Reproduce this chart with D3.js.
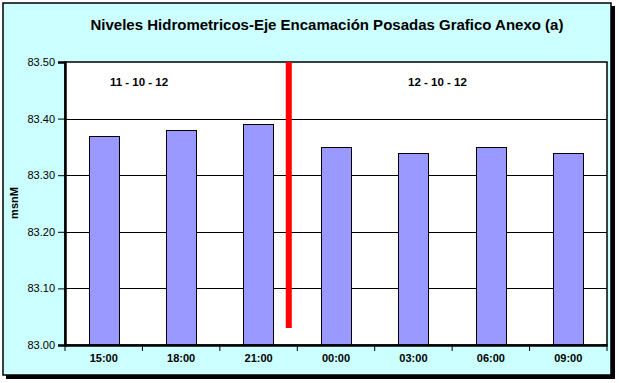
<!DOCTYPE html>
<html>
<head>
<meta charset="utf-8">
<script src="https://cdn.jsdelivr.net/npm/d3@7"></script>
<style>
  html, body { margin: 0; padding: 0; background: #fff; }
  svg { display: block; }
  text { font-family: "Liberation Sans", Arial, sans-serif; }
</style>
</head>
<body>
<svg id="chart" width="619" height="383"></svg>
<script>
// ---- data ----
const categories = ["15:00", "18:00", "21:00", "00:00", "03:00", "06:00", "09:00"];
const levels = [83.37, 83.38, 83.39, 83.35, 83.34, 83.35, 83.34];
const yTicks = [83.00, 83.10, 83.20, 83.30, 83.40, 83.50];
const dayLabels = ["11 - 10 - 12", "12 - 10 - 12"];
const dayLabelPos = [0.08, 3.93];          // category-index positions
const dividerIndex = [2.39];               // position of red divider (category index units)
const dividerRange = [83.03, 83.50];
const title = "Niveles Hidrometricos-Eje Encamación Posadas Grafico Anexo (a)";
const yTitle = "msnM";

// ---- layout ----
const svg = d3.select("#chart");
const plot = { left: 65, right: 607, top: 62, bottom: 345 };

// background with shadow
svg.append("rect").attr("x", 6).attr("y", 6).attr("width", 609).attr("height", 373).attr("fill", "#000");
svg.append("rect").attr("x", 3).attr("y", 3).attr("width", 608).attr("height", 372)
  .attr("fill", "#CCFFFF").attr("stroke", "#000").attr("stroke-width", 1.5);

const x = d3.scaleBand().domain(categories).range([plot.left, plot.right]).paddingInner(0).paddingOuter(0);
const xi = d3.scaleLinear().domain([-0.5, categories.length - 0.5]).range([plot.left, plot.right]);
const y = d3.scaleLinear().domain([83.0, 83.5]).range([plot.bottom, plot.top]);

// plot area
svg.append("rect").attr("x", plot.left).attr("y", plot.top)
  .attr("width", plot.right - plot.left).attr("height", plot.bottom - plot.top)
  .attr("fill", "#fff");

// gridlines
svg.append("g").selectAll("line").data(yTicks.slice(1, -1)).join("line")
  .attr("x1", plot.left).attr("x2", plot.right)
  .attr("y1", d => Math.round(y(d)) + 0.5).attr("y2", d => Math.round(y(d)) + 0.5)
  .attr("stroke", "#000").attr("stroke-width", 1);

// bars
const barW = x.bandwidth() * 0.39;
svg.append("g").selectAll("rect").data(levels).join("rect")
  .attr("x", (d, i) => Math.round(x(categories[i]) + (x.bandwidth() - barW) / 2) + 0.5)
  .attr("y", d => Math.round(y(d)) + 0.5)
  .attr("width", Math.round(barW))
  .attr("height", d => y(83.0) - Math.round(y(d)))
  .attr("fill", "#9999FF").attr("stroke", "#000").attr("stroke-width", 1);

// plot border
svg.append("rect").attr("x", plot.left).attr("y", plot.top)
  .attr("width", plot.right - plot.left).attr("height", plot.bottom - plot.top)
  .attr("fill", "none").attr("stroke", "#000").attr("stroke-width", 1.5);

// red divider
svg.append("g").selectAll("line").data(dividerIndex).join("line")
  .attr("x1", d => xi(d)).attr("x2", d => xi(d))
  .attr("y1", y(dividerRange[1])).attr("y2", y(dividerRange[0]))
  .attr("stroke", "#FF0000").attr("stroke-width", 6);

// y axis
const yAxis = d3.axisLeft(y).tickValues(yTicks).tickFormat(d3.format(".2f")).tickSize(7).tickPadding(3);
const gy = svg.append("g").attr("transform", `translate(${plot.left},0)`).call(yAxis);
gy.select(".domain").attr("stroke", "#000").attr("stroke-width", 2.5);
gy.selectAll(".tick line").attr("stroke", "#000").attr("stroke-width", 1);
gy.selectAll(".tick text").attr("font-size", 11).attr("fill", "#000")
  .attr("font-family", "'Liberation Sans', Arial, sans-serif");

// x axis (ticks at category boundaries)
const xAxis = d3.axisBottom(x).tickSize(0).tickPadding(9);
const gx = svg.append("g").attr("transform", `translate(0,${plot.bottom})`).call(xAxis);
gx.select(".domain").attr("stroke", "#000").attr("stroke-width", 2.5);
gx.selectAll(".tick text").attr("font-size", 11).attr("font-weight", "bold").attr("fill", "#000")
  .attr("font-family", "'Liberation Sans', Arial, sans-serif");
const boundaries = d3.range(categories.length + 1).map(i => i - 0.5);
svg.append("g").selectAll("line").data(boundaries).join("line")
  .attr("x1", d => xi(d)).attr("x2", d => xi(d))
  .attr("y1", plot.bottom).attr("y2", plot.bottom + 6)
  .attr("stroke", "#000").attr("stroke-width", 1);

// day labels
svg.append("g").selectAll("text").data(dayLabels).join("text")
  .attr("x", (d, i) => xi(dayLabelPos[i]))
  .attr("y", 86)
  .attr("font-size", 11.5).attr("font-weight", "bold")
  .attr("text-anchor", "start")
  .text(d => d);

// title
svg.append("text").attr("x", 327).attr("y", 30)
  .attr("text-anchor", "middle").attr("font-size", 15).attr("font-weight", "bold")
  .text(title);

// y title
svg.append("text").attr("transform", "translate(18,203) rotate(-90)")
  .attr("text-anchor", "middle").attr("font-size", 11).attr("font-weight", "bold")
  .text(yTitle);
</script>
</body>
</html>
